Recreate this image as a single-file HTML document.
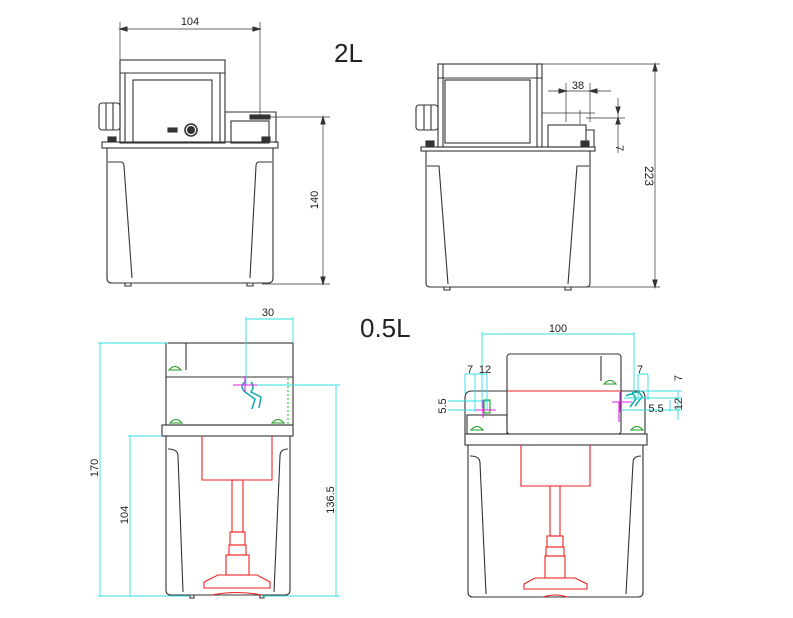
<!DOCTYPE html>
<html><head><meta charset="utf-8"><style>
html,body{margin:0;padding:0;background:#fff;width:793px;height:618px;overflow:hidden}
svg{display:block}
text{font-family:"Liberation Sans",sans-serif}
</style></head><body>
<svg width="793" height="618" viewBox="0 0 793 618" xmlns="http://www.w3.org/2000/svg">
<g fill="none" stroke="#333" stroke-width="1.1">
<!-- ===== 2L front ===== -->
<line x1="120" y1="22" x2="120" y2="62" stroke-width="0.7"/>
<line x1="260" y1="22" x2="260" y2="117" stroke-width="0.7"/>
<line x1="120" y1="29" x2="260" y2="29" stroke-width="0.7"/>
<path d="M120 29 l7 -2 v4z M260 29 l-7 -2 v4z" fill="#333"/>
<rect x="120" y="60" width="105" height="83"/>
<line x1="120" y1="73" x2="225" y2="73"/>
<line x1="125" y1="73" x2="125" y2="143"/>
<line x1="220" y1="73" x2="220" y2="143"/>
<rect x="133" y="80" width="79" height="62"/>
<rect x="99" y="103" width="21" height="27" rx="3"/>
<line x1="106" y1="103" x2="106" y2="130"/><line x1="113" y1="103" x2="113" y2="130"/>
<circle cx="191" cy="130" r="6" stroke-width="1.6"/>
<circle cx="191" cy="130" r="3.5" fill="#333"/>
<rect x="168" y="128" width="9" height="4" fill="#333"/>
<path d="M225 143 V112 H276 V143"/>
<rect x="231" y="121" width="38" height="22"/>
<rect x="250" y="115" width="20" height="4" fill="#333"/>
<line x1="262" y1="117" x2="330" y2="117" stroke-width="0.7"/>
<rect x="102" y="142" width="176" height="6"/>
<rect x="108" y="137" width="8" height="4" fill="#333"/><rect x="262" y="137" width="8" height="4" fill="#333"/>
<path d="M107 148 V278 Q107 283 112 283 H268 Q273 283 273 278 V148"/>
<path d="M108 162 H121 Q124 162 124 166 L132 278"/>
<path d="M272 162 H259 Q256 162 256 166 L250 278"/>
<path d="M125 283 v3 h6 v-3 M247 283 v3 h6 v-3"/>
<line x1="262" y1="284" x2="330" y2="284" stroke-width="0.7"/>
<line x1="323" y1="117" x2="323" y2="284" stroke-width="0.7"/>
<path d="M323 117 l-2 7 h4z M323 284 l-2 -7 h4z" fill="#333"/>
<!-- ===== 2L side ===== -->
<rect x="438" y="64" width="104" height="83"/>
<line x1="438" y1="78" x2="542" y2="78"/>
<line x1="443" y1="64" x2="443" y2="147"/><line x1="537" y1="64" x2="537" y2="147"/>
<rect x="445" y="80" width="85" height="63"/>
<rect x="416" y="105" width="22" height="25" rx="3"/>
<line x1="424" y1="105" x2="424" y2="130"/><line x1="431" y1="105" x2="431" y2="130"/>
<line x1="542" y1="113" x2="595" y2="113" stroke-width="0.7"/>
<rect x="548" y="125" width="38" height="22"/>
<path d="M586 130 h8 v17"/>
<rect x="421" y="147" width="174" height="4"/>
<rect x="426" y="141" width="8" height="5" fill="#333"/><rect x="581" y="141" width="8" height="5" fill="#333"/>
<path d="M426 151 V283 Q426 287 430 287 H586 Q590 287 590 283 V151"/>
<path d="M427 166 H439 L448 284"/>
<path d="M589 166 H577 L568 284"/>
<path d="M444 287 v3 h6 v-3 M565 287 v3 h6 v-3"/>
<line x1="542" y1="64" x2="660" y2="64" stroke-width="0.7"/>
<line x1="572" y1="287" x2="660" y2="287" stroke-width="0.7"/>
<line x1="655" y1="64" x2="655" y2="287" stroke-width="0.7"/>
<path d="M655 64 l-2 7 h4z M655 287 l-2 -7 h4z" fill="#333"/>
<line x1="548" y1="91" x2="611" y2="91" stroke-width="0.7"/>
<line x1="566" y1="83" x2="566" y2="122" stroke-width="0.7"/>
<line x1="590" y1="83" x2="590" y2="122" stroke-width="0.7"/>
<line x1="580" y1="110" x2="580" y2="124" stroke-width="0.7"/>
<path d="M566 91 l-7 -2 v4z M590 91 l7 -2 v4z" fill="#333"/>
<line x1="586" y1="118" x2="625" y2="118" stroke-width="0.7"/>
<line x1="618" y1="98" x2="618" y2="153" stroke-width="0.7"/>
<path d="M618 113 l-2 -6 h4z M618 118 l-2 6 h4z" fill="#333"/>
<!-- ===== 0.5L front ===== -->
<rect x="166" y="343" width="127" height="82"/>
<line x1="166" y1="377" x2="293" y2="377"/>
<line x1="186" y1="343" x2="186" y2="370"/>
<rect x="162" y="425" width="131" height="11"/>
<path d="M166 436 V590 Q166 595 171 595 H285 Q290 595 290 590 V436"/>
<path d="M168 449 Q178 449 178 456 L183 592"/>
<path d="M288 449 Q280 449 280 456 L274 592"/>
<path d="M190 595 v3 h4 v-3 M260 595 v3 h4 v-3"/>
<path d="M169 370 q6 -7 12 0z M170 423 q6 -7 12 0z M272 423 q6 -7 12 0z" stroke="#292"/>
<line x1="288" y1="378" x2="288" y2="425" stroke="#2c2" stroke-dasharray="2 2"/>
<path d="M245 382 q-6 4 0 10 l10 7 -3 10 M251 382 q4 5 0 10 l10 5 -2 11" stroke="#1aa" stroke-width="1.5"/>
<g stroke="#e22">
<path d="M202 436 V480 H272 V436"/>
<rect x="232" y="480" width="11" height="52"/>
<rect x="230" y="532" width="15" height="13"/>
<rect x="229" y="545" width="17" height="10"/>
<rect x="226" y="555" width="23" height="20"/>
<path d="M218 575 H257 L270 582 V588 H204 V582 Z"/>
<path d="M212 595 q25 -5 50 0"/>
</g>
<g stroke="#3dd" stroke-width="0.9">
<line x1="98" y1="343" x2="168" y2="343"/>
<line x1="98" y1="596" x2="190" y2="596"/>
<line x1="100" y1="343" x2="100" y2="596"/>
<line x1="128" y1="436" x2="162" y2="436"/>
<line x1="130" y1="436" x2="130" y2="596"/>
<line x1="240" y1="385" x2="340" y2="385"/>
<line x1="262" y1="596" x2="340" y2="596"/>
<line x1="336" y1="385" x2="336" y2="596"/>
<line x1="246" y1="319" x2="293" y2="319"/>
<line x1="246" y1="317" x2="246" y2="385"/>
<line x1="293" y1="317" x2="293" y2="343"/>
</g>
<path d="M233 385 h24 M245 376 v16" stroke="#d2d"/>
<!-- ===== 0.5L side ===== -->
<rect x="507" y="354" width="114" height="80" rx="3"/>
<line x1="601" y1="356" x2="601" y2="381"/>
<line x1="507" y1="391" x2="621" y2="391" stroke="#e22"/>
<path d="M507 391 H472 Q465 391 465 398 V434"/>
<rect x="467" y="415" width="40" height="19"/>
<path d="M621 391 H640 Q645 391 645 398 V434"/>
<rect x="465" y="434" width="182" height="11"/>
<path d="M468 445 V592 Q468 597 473 597 H638 Q643 597 643 592 V445"/>
<path d="M470 456 Q480 456 480 463 L486 594"/>
<path d="M641 456 Q633 456 633 463 L626 594"/>
<path d="M471 430 q6 -7 12 0z M604 384 q6 -7 12 0z M631 430 q6 -7 12 0z" stroke="#292"/>
<path d="M626 396 q8 -5 10 3 l-6 8 M632 393 q8 -3 10 4 l-7 9" stroke="#1aa" stroke-width="1.5"/>
<rect x="484" y="400" width="6" height="13" stroke="#292"/>
<g stroke="#e22">
<path d="M521 445 V486 H590 V445"/>
<rect x="550" y="486" width="10" height="50"/>
<rect x="547" y="536" width="16" height="11"/>
<rect x="546" y="547" width="18" height="9"/>
<rect x="545" y="556" width="20" height="22"/>
<path d="M535 578 H575 L587 584 V589 H524 V584 Z"/>
<path d="M543 597 q12 -4 24 0"/>
</g>
<g stroke="#3dd" stroke-width="0.9">
<line x1="482" y1="334" x2="634" y2="334"/>
<line x1="482" y1="332" x2="482" y2="408"/>
<line x1="634" y1="332" x2="634" y2="400"/>
<path d="M465 374 V394 M475 374 V412 M487 374 V410 M465 374 H487"/>
<line x1="448" y1="401" x2="490" y2="401"/>
<line x1="448" y1="410" x2="490" y2="410"/>
<path d="M638 374 V400 M648 374 V400 M638 374 H648"/>
<line x1="640" y1="391" x2="682" y2="391"/>
<line x1="624" y1="398" x2="682" y2="398"/>
<line x1="620" y1="410" x2="682" y2="410"/>
<line x1="678" y1="391" x2="678" y2="420"/>
<line x1="670" y1="400" x2="670" y2="412"/>
</g>
<path d="M476 410 h20 M483 400 v18 M612 402 h20 M620 392 v20 M619 402 v20" stroke="#d2d"/>
</g>
<g fill="#222" font-size="11">
<text x="190" y="25" text-anchor="middle">104</text>
<text transform="translate(318 200) rotate(-90)" text-anchor="middle">140</text>
<text x="578" y="89" text-anchor="middle">38</text>
<text transform="translate(616 148) rotate(90)" text-anchor="middle">7</text>
<text transform="translate(645 176) rotate(90)" text-anchor="middle" font-size="12">223</text>
<text x="268" y="316" text-anchor="middle">30</text>
<text transform="translate(98 468) rotate(-90)" text-anchor="middle">170</text>
<text transform="translate(128 515) rotate(-90)" text-anchor="middle">104</text>
<text transform="translate(334 500) rotate(-90)" text-anchor="middle">136.5</text>
<text x="558" y="332" text-anchor="middle">100</text>
<text x="470" y="373" text-anchor="middle">7</text>
<text x="485" y="373" text-anchor="middle">12</text>
<text transform="translate(446 406) rotate(-90)" text-anchor="middle">5.5</text>
<text x="640" y="373" text-anchor="middle">7</text>
<text x="656" y="412" text-anchor="middle">5.5</text>
<text transform="translate(682 378) rotate(-90)" text-anchor="middle">7</text>
<text transform="translate(682 404) rotate(-90)" text-anchor="middle">12</text>
<text x="334" y="62" font-size="26">2L</text>
<text x="360" y="337" font-size="26">0.5L</text>
</g>
</svg>
</body></html>
